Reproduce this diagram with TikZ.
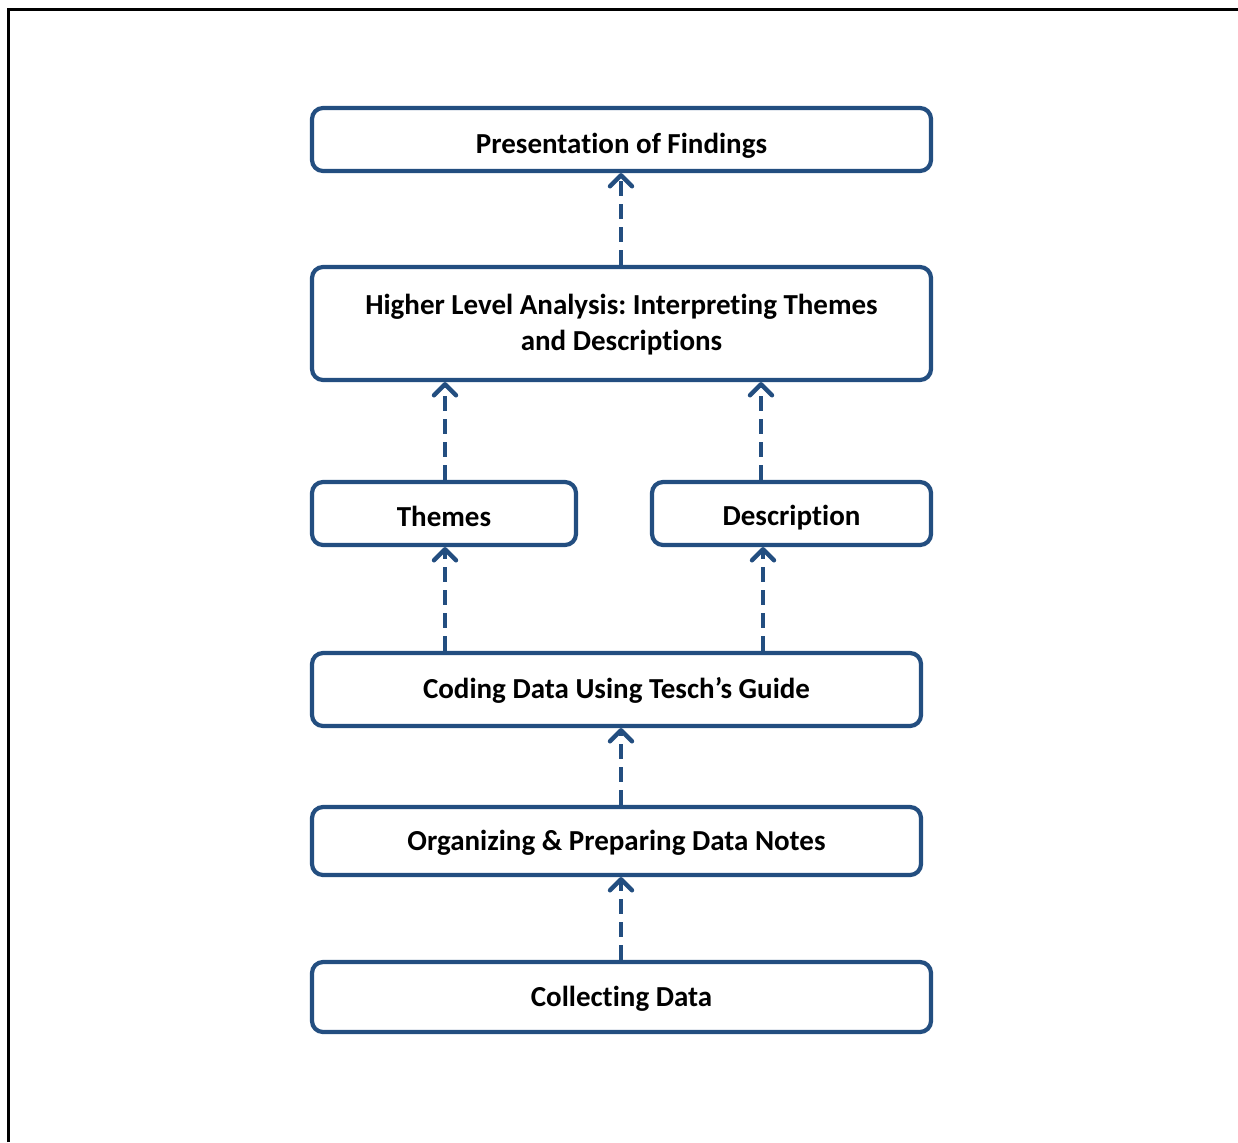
\documentclass[tikz,border=0pt]{standalone}
\usepackage{fontspec}
\setmainfont{Carlito}[Ligatures=NoCommon]
\usetikzlibrary{arrows.meta}
\definecolor{boxblue}{RGB}{35,78,128}
\tikzset{
  box/.style={draw=boxblue, line width=4.2pt, rounded corners=11pt, fill=white, inner sep=0pt},
  lbl/.style={font=\fontsize{29}{36}\selectfont\bfseries\frenchspacing, align=center, inner sep=0pt},
  flow/.style={draw=boxblue, line width=4.4pt, dash pattern=on 15pt off 8pt,
    -{Straight Barb[length=11pt,width=22pt,line width=4.4pt,round]}},
}
\begin{document}
\begin{tikzpicture}[x=1pt,y=-1pt]
\useasboundingbox (0,0) rectangle (1238,1142);
\draw[line width=3pt] (8,1142) -- (8,10) -- (1238,10);
\node[box, minimum width=619pt, minimum height=63pt] (pres) at (621.5,139.5) {};
\node[box, minimum width=619pt, minimum height=113pt] (high) at (621.5,323.5) {};
\node[box, minimum width=264pt, minimum height=63pt] (them) at (444,513.5) {};
\node[box, minimum width=279pt, minimum height=63pt] (desc) at (791.5,513.5) {};
\node[box, minimum width=609pt, minimum height=73pt] (code) at (616.5,689.5) {};
\node[box, minimum width=609pt, minimum height=68pt] (orga) at (616.5,841) {};
\node[box, minimum width=619pt, minimum height=70pt] (coll) at (621.5,997) {};
\node[lbl] (tpres) at ([yshift=-6pt]pres.center) {Presentation of Findings};
\node[lbl] (thigh) at ([yshift=-1pt]high.center) {Higher Level Analysis: Interpreting Themes\\and Descriptions};
\node[lbl] (tthem) at ([yshift=-3pt]them.center) {Themes};
\node[lbl] (tdesc) at ([yshift=-4pt]desc.center) {Description};
\node[lbl] (tcode) at ([yshift=-1pt]code.center) {Coding Data Using Tesch’s Guide};
\node[lbl] (torga) at ([yshift=-2pt]orga.center) {Organizing \& Preparing Data Notes};
\node[lbl] (tcoll) at ([yshift=-2pt]coll.center) {Collecting Data};
\draw[flow] (high.north -| 621,0) -- (pres.south -| 621,0);
\draw[flow] (them.north -| 445,0) -- (high.south -| 445,0);
\draw[flow] (desc.north -| 761,0) -- (high.south -| 761,0);
\draw[flow] (code.north -| 445,0) -- (them.south -| 445,0);
\draw[flow] (code.north -| 763,0) -- (desc.south -| 763,0);
\draw[flow] (orga.north -| 621,0) -- (code.south -| 621,0);
\draw[flow] (coll.north -| 621,0) -- (orga.south -| 621,0);
\end{tikzpicture}
\end{document}
